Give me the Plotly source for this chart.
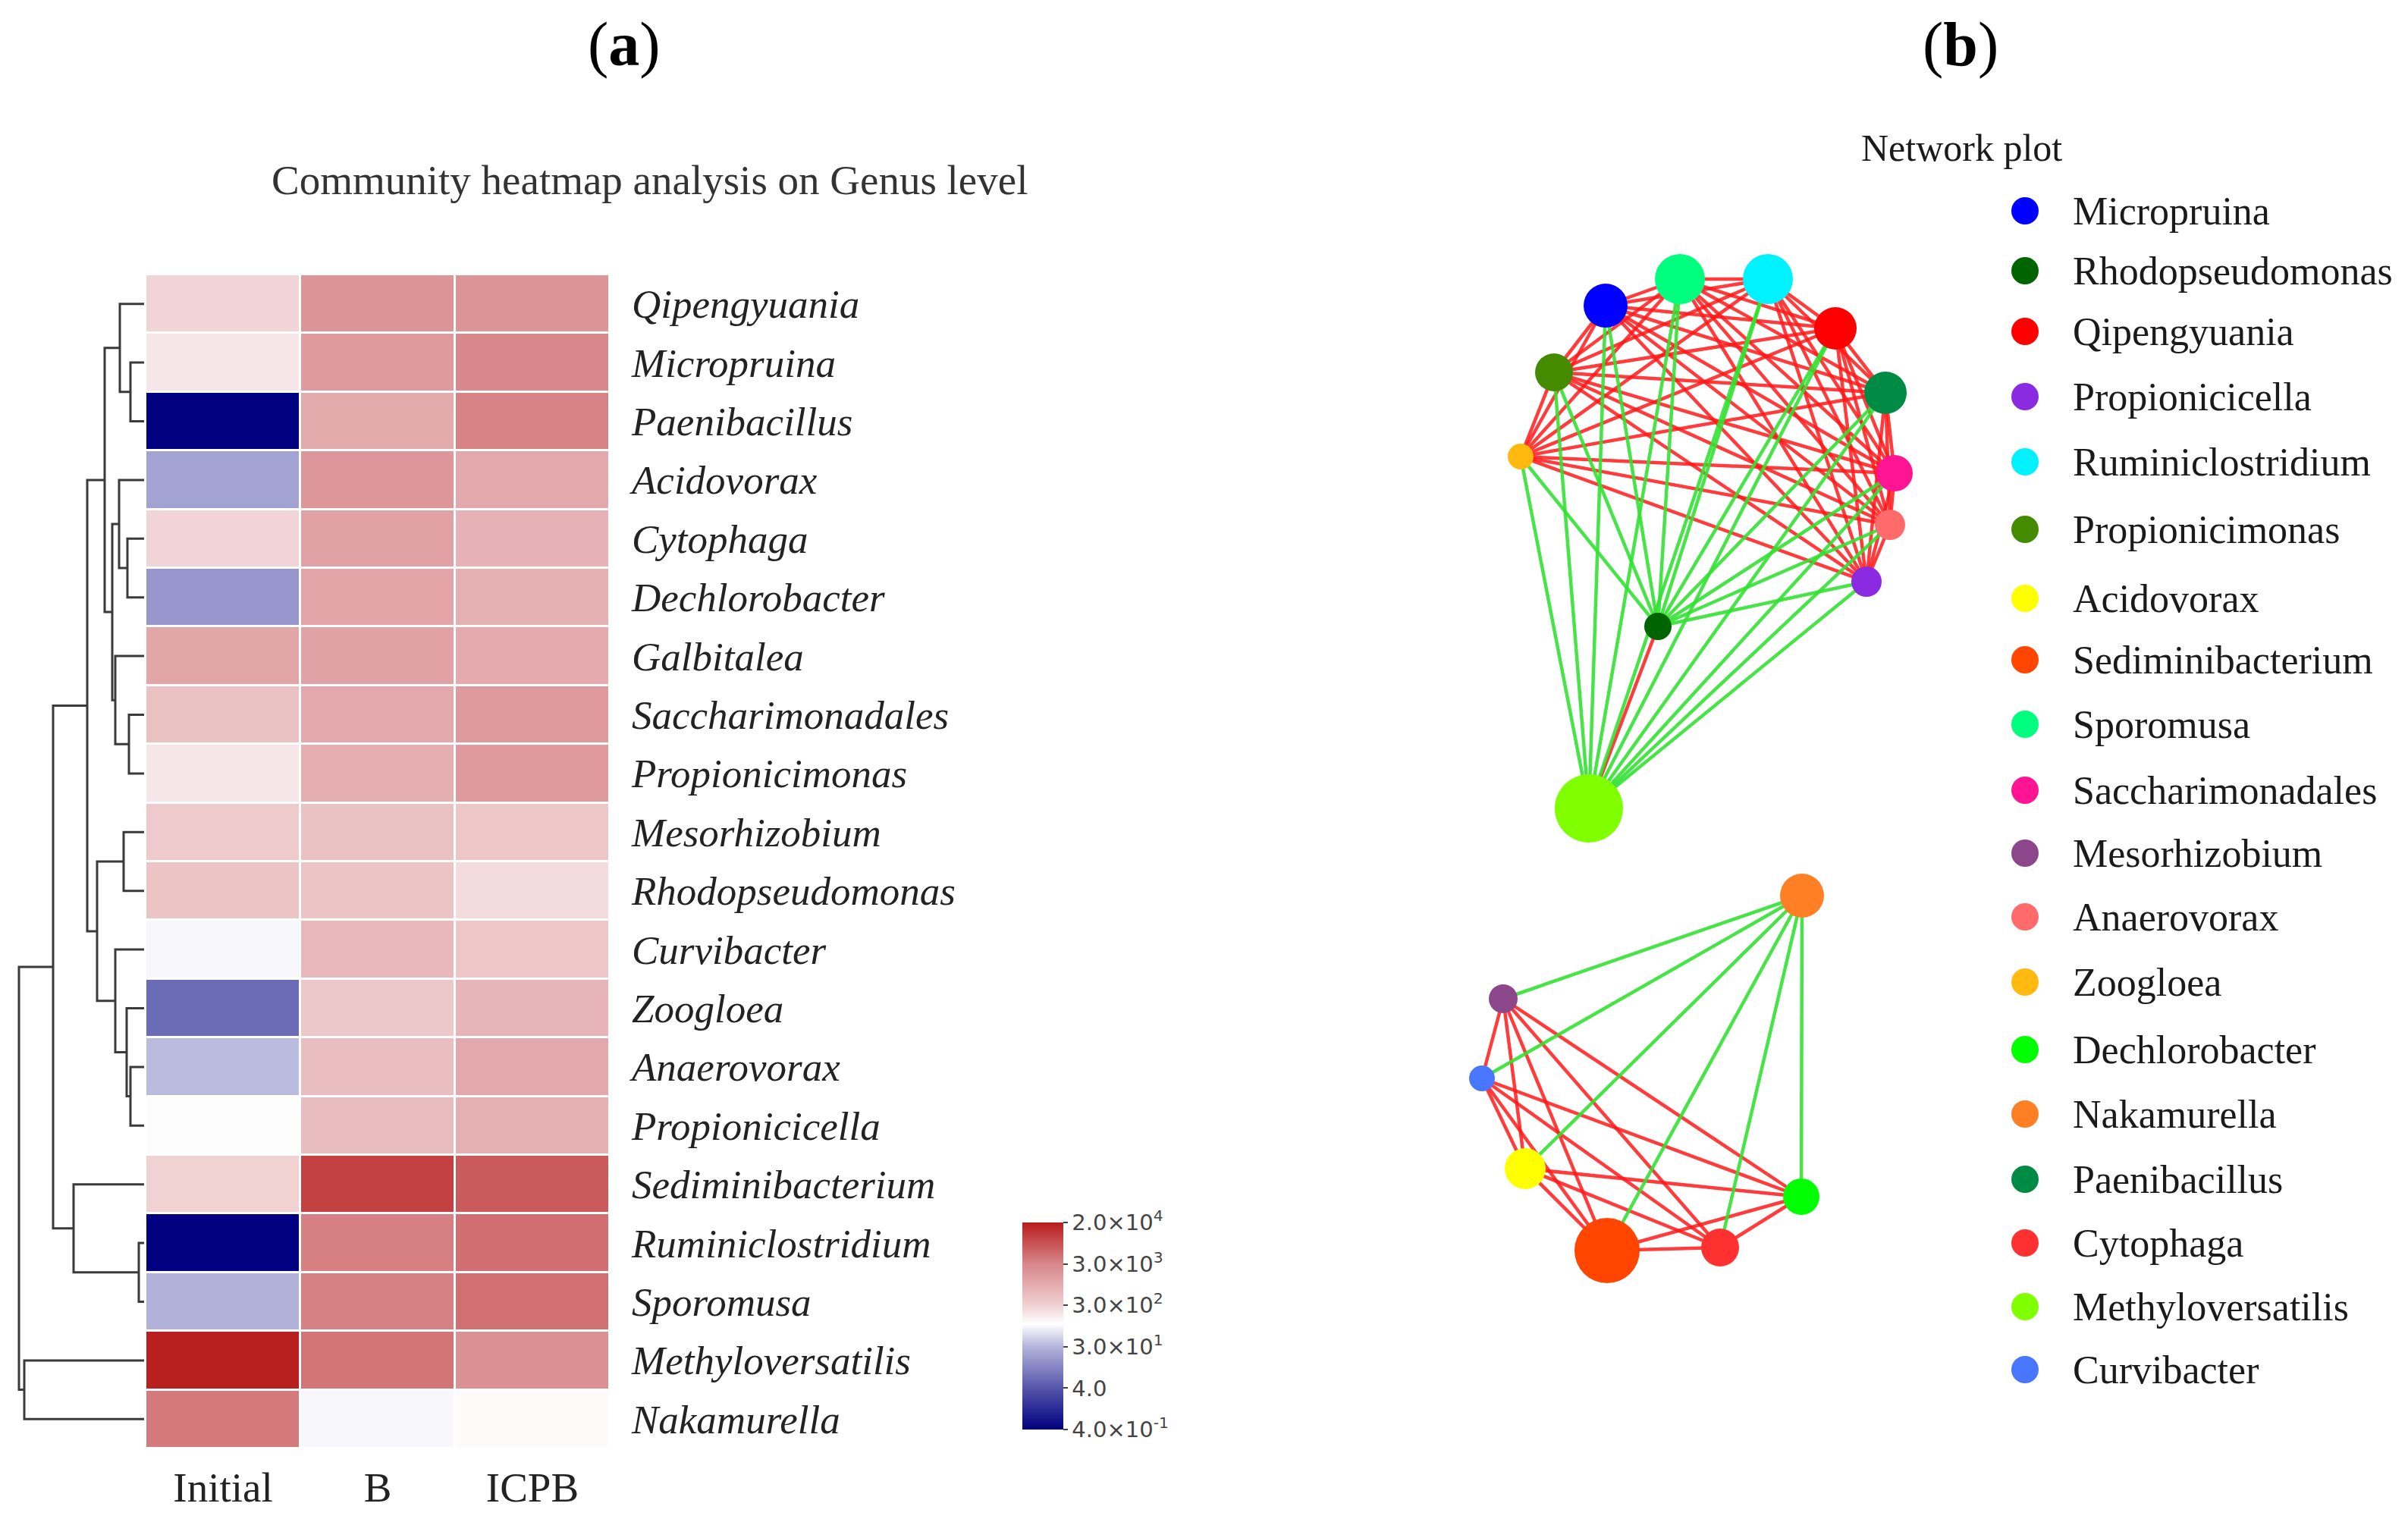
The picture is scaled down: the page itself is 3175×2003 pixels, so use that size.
import numpy as np
import plotly.graph_objects as go

W, H = 3175, 2003

# ---------------- data: heatmap ----------------
genera = ["Qipengyuania", "Micropruina", "Paenibacillus", "Acidovorax", "Cytophaga",
          "Dechlorobacter", "Galbitalea", "Saccharimonadales", "Propionicimonas",
          "Mesorhizobium", "Rhodopseudomonas", "Curvibacter", "Zoogloea", "Anaerovorax",
          "Propionicicella", "Sediminibacterium", "Ruminiclostridium", "Sporomusa",
          "Methyloversatilis", "Nakamurella"]
samples = ["Initial", "B", "ICPB"]
abund_initial = [275, 185, 0.4, 21, 275, 16, 1130, 465, 185, 360, 435, 95, 6.4, 34, 112,
                 290, 0.4, 28, 19000, 3750]
abund_B = [2000, 1650, 970, 1850, 1280, 1200, 1280, 1060, 880, 465, 435, 640, 385, 530,
           560, 10300, 3400, 3300, 4100, 95]
abund_ICPB = [2000, 2900, 3200, 1060, 770, 825, 990, 1650, 1650, 410, 230, 410, 720, 1060,
              825, 6650, 4650, 4500, 2270, 120]

cbar_values = [0.4, 4, 30, 300, 3000, 20000]
cbar_text = ["4.0×10<sup>-1</sup>", "4.0", "3.0×10<sup>1</sup>", "3.0×10<sup>2</sup>",
             "3.0×10<sup>3</sup>", "2.0×10<sup>4</sup>"]

# dendrogram merges (left, right, height)
dendro_merges = [
    ("Micropruina", "Paenibacillus", 18),       # n0
    ("Qipengyuania", "n0", 32),                 # n1
    ("Cytophaga", "Dechlorobacter", 22),        # n2
    ("Acidovorax", "n2", 33),                   # n3
    ("Saccharimonadales", "Propionicimonas", 20),  # n4
    ("Galbitalea", "n4", 38),                   # n5
    ("n3", "n5", 42),                           # n6
    ("n1", "n6", 52),                           # n7
    ("Mesorhizobium", "Rhodopseudomonas", 27),  # n8
    ("Anaerovorax", "Propionicicella", 18),     # n9
    ("Zoogloea", "n9", 23),                     # n10
    ("Curvibacter", "n10", 38),                 # n11
    ("n8", "n11", 62),                          # n12
    ("n7", "n12", 75),                          # n13
    ("Ruminiclostridium", "Sporomusa", 7),      # n14
    ("Sediminibacterium", "n14", 93),           # n15
    ("n13", "n15", 120),                        # n16
    ("Methyloversatilis", "Nakamurella", 158),  # n17
    ("n16", "n17", 165),                        # n18
]

# ---------------- data: network ----------------
legend_names = ["Micropruina", "Rhodopseudomonas", "Qipengyuania", "Propionicicella",
                "Ruminiclostridium", "Propionicimonas", "Acidovorax", "Sediminibacterium",
                "Sporomusa", "Saccharimonadales", "Mesorhizobium", "Anaerovorax", "Zoogloea",
                "Dechlorobacter", "Nakamurella", "Paenibacillus", "Cytophaga",
                "Methyloversatilis", "Curvibacter"]
legend_colors = ["#0000ff", "#006400", "#ff0000", "#8a2be2", "#00f2ff", "#458b00", "#ffff00",
                 "#ff4500", "#00ff7f", "#ff1493", "#8b4789", "#ff6a6a", "#ffb90f", "#00ff00",
                 "#ff7f24", "#008b45", "#ff3030", "#7fff00", "#4876ff"]

# node layout coordinates and node weights (size)
node_names = ["Micropruina", "Sporomusa", "Ruminiclostridium", "Qipengyuania", "Propionicimonas",
              "Paenibacillus", "Zoogloea", "Saccharimonadales", "Anaerovorax", "Propionicicella",
              "Rhodopseudomonas", "Methyloversatilis", "Nakamurella", "Mesorhizobium",
              "Curvibacter", "Acidovorax", "Dechlorobacter", "Sediminibacterium", "Cytophaga"]
node_x = [2117, 2215, 2331, 2420, 2049, 2486, 2005, 2498, 2492, 2461, 2186, 2095,
          2376, 1982, 1954, 2011, 2375, 2119, 2268]
node_y = [403, 368, 368, 433, 491, 518, 602, 624, 692, 767, 826, 1066,
          1181, 1317, 1422, 1541, 1578, 1649, 1645]
node_weight = [58, 66, 66, 56, 50, 56, 34, 48, 40, 40, 36, 90,
               58, 38, 34, 54, 48, 86, 50]

ring = ["Micropruina", "Sporomusa", "Ruminiclostridium", "Qipengyuania", "Paenibacillus",
        "Saccharimonadales", "Anaerovorax", "Propionicicella", "Propionicimonas", "Zoogloea"]
lower = ["Mesorhizobium", "Curvibacter", "Acidovorax", "Sediminibacterium", "Cytophaga",
         "Dechlorobacter"]
pos_edges = [(a, b) for i, a in enumerate(ring) for b in ring[i + 1:]]
pos_edges += [(a, b) for i, a in enumerate(lower) for b in lower[i + 1:]]
pos_edges += [("Methyloversatilis", "Rhodopseudomonas")]
neg_edges = [("Rhodopseudomonas", r) for r in ring] + [("Methyloversatilis", r) for r in ring]
neg_edges += [("Nakamurella", l) for l in lower]

# ---------------- layout constants ----------------
HX0, HX1, HY0, HY1 = 192, 804, 362, 1910
legend_y = [278, 357, 437, 523, 609, 698, 789, 870, 955, 1042, 1125, 1209, 1295, 1384,
            1469, 1555, 1639, 1723, 1806]
SERIF = "Liberation Serif, Times New Roman, serif"

fig = go.Figure()

# heatmap
z = np.array([abund_initial, abund_B, abund_ICPB], dtype=float).T
zpos = np.interp(np.log10(z), np.log10(cbar_values), np.arange(len(cbar_values)))
colorscale = [[0.0, "#000080"], [0.2, "#5555aa"], [0.4, "#b4b4dc"], [0.51, "#ffffff"],
              [0.6, "#f0d0d2"], [0.8, "#d8878a"], [1.0, "#b81c1c"]]
fig.add_trace(go.Heatmap(
    z=zpos, x=list(range(len(samples))), y=list(range(len(genera))),
    customdata=z, hovertemplate="%{customdata}<extra></extra>",
    colorscale=colorscale, zmin=0, zmax=5, xgap=3, ygap=3,
    colorbar=dict(x=1348 / W, xanchor="left", y=1 - 1612 / H, yanchor="top",
                  len=273 / H, lenmode="fraction", thickness=54, thicknessmode="pixels",
                  outlinewidth=0, xpad=0, ypad=0,
                  tickvals=list(range(len(cbar_values))), ticktext=cbar_text,
                  ticks="outside", ticklen=6, tickcolor="#444", tickwidth=2,
                  tickfont=dict(family="DejaVu Sans", size=29, color="#444")),
    xaxis="x", yaxis="y"))

# dendrogram
node_pos = {g: (0.0, float(i)) for i, g in enumerate(genera)}
dx, dy = [], []
for k, (a, b, h) in enumerate(dendro_merges):
    xa, ya = node_pos[a]
    xb, yb = node_pos[b]
    dx += [xa, h, h, xb, None]
    dy += [ya, ya, yb, yb, None]
    node_pos["n%d" % k] = (h, (ya + yb) / 2)
fig.add_trace(go.Scatter(x=dx, y=dy, mode="lines", line=dict(color="#3a3a3a", width=3),
                         hoverinfo="skip", xaxis="x2", yaxis="y2"))

# network edges
npos = {n: (x, y) for n, x, y in zip(node_names, node_x, node_y)}


def edge_xy(edges):
    ex, ey = [], []
    for a, b in edges:
        ex += [npos[a][0], npos[b][0], None]
        ey += [npos[a][1], npos[b][1], None]
    return ex, ey


ex, ey = edge_xy(pos_edges)
fig.add_trace(go.Scatter(x=ex, y=ey, mode="lines", line=dict(color="rgba(255,25,25,0.85)", width=4.5),
                         hoverinfo="skip", xaxis="x3", yaxis="y3"))
ex, ey = edge_xy(neg_edges)
fig.add_trace(go.Scatter(x=ex, y=ey, mode="lines", line=dict(color="rgba(50,225,50,0.9)", width=4.5),
                         hoverinfo="skip", xaxis="x3", yaxis="y3"))

cmap = dict(zip(legend_names, legend_colors))
fig.add_trace(go.Scatter(x=node_x, y=node_y, mode="markers", text=node_names,
                         marker=dict(size=node_weight, color=[cmap[n] for n in node_names],
                                     opacity=1, line=dict(width=0)),
                         hovertemplate="%{text}<extra></extra>", xaxis="x3", yaxis="y3"))

# manual legend
fig.add_trace(go.Scatter(x=[2670] * len(legend_names), y=legend_y, mode="markers",
                         marker=dict(size=36, color=legend_colors, opacity=1, line=dict(width=0)),
                         hoverinfo="skip", xaxis="x3", yaxis="y3"))

annotations = []
for name, yy in zip(legend_names, legend_y):
    annotations.append(dict(x=2731, y=yy, xref="x3", yref="y3", text=name, showarrow=False,
                            xanchor="left", yanchor="middle",
                            font=dict(family=SERIF, size=52, color="#1a1a1a")))
annotations.append(dict(x=2452, y=195, xref="x3", yref="y3", text="Network plot",
                        showarrow=False, xanchor="left", yanchor="middle",
                        font=dict(family=SERIF, size=50, color="#1a1a1a")))
annotations.append(dict(x=856, y=237, xref="x3", yref="y3",
                        text="Community heatmap analysis on Genus level", showarrow=False,
                        xanchor="center", yanchor="middle",
                        font=dict(family=SERIF, size=55, color="#333")))
annotations.append(dict(x=823, y=58, xref="x3", yref="y3", text="(<b>a</b>)", showarrow=False,
                        xanchor="center", yanchor="middle",
                        font=dict(family=SERIF, size=82, color="#000")))
annotations.append(dict(x=2585, y=58, xref="x3", yref="y3", text="(<b>b</b>)", showarrow=False,
                        xanchor="center", yanchor="middle",
                        font=dict(family=SERIF, size=82, color="#000")))

fig.update_layout(
    width=W, height=H, autosize=False, margin=dict(l=0, r=0, t=0, b=0, pad=0),
    paper_bgcolor="white", plot_bgcolor="rgba(0,0,0,0)", showlegend=False,
    annotations=annotations,
    xaxis=dict(domain=[HX0 / W, HX1 / W], range=[-0.5, 2.5], anchor="y",
               tickvals=list(range(len(samples))), ticktext=samples, ticks="",
               ticklabelstandoff=14, showgrid=False, zeroline=False, showline=False,
               tickfont=dict(family=SERIF, size=55, color="#222"), fixedrange=True),
    yaxis=dict(domain=[1 - HY1 / H, 1 - HY0 / H], range=[len(genera) - 0.5, -0.5], anchor="x",
               side="right", tickvals=list(range(len(genera))),
               ticktext=["<i>%s</i>" % g for g in genera], ticks="", ticklabelstandoff=28,
               showgrid=False, zeroline=False, showline=False,
               tickfont=dict(family=SERIF, size=53, color="#222"), fixedrange=True),
    xaxis2=dict(domain=[0, HX0 / W], range=[190, -2], anchor="y2", visible=False, fixedrange=True),
    yaxis2=dict(domain=[1 - HY1 / H, 1 - HY0 / H], range=[len(genera) - 0.5, -0.5], anchor="x2",
                visible=False, fixedrange=True),
    xaxis3=dict(domain=[0, 1], range=[0, W], anchor="y3", visible=False, fixedrange=True),
    yaxis3=dict(domain=[0, 1], range=[H, 0], anchor="x3", visible=False, fixedrange=True),
)

fig.write_html("out.html", config={"displayModeBar": False},
               post_script="document.body.style.margin='0';")
